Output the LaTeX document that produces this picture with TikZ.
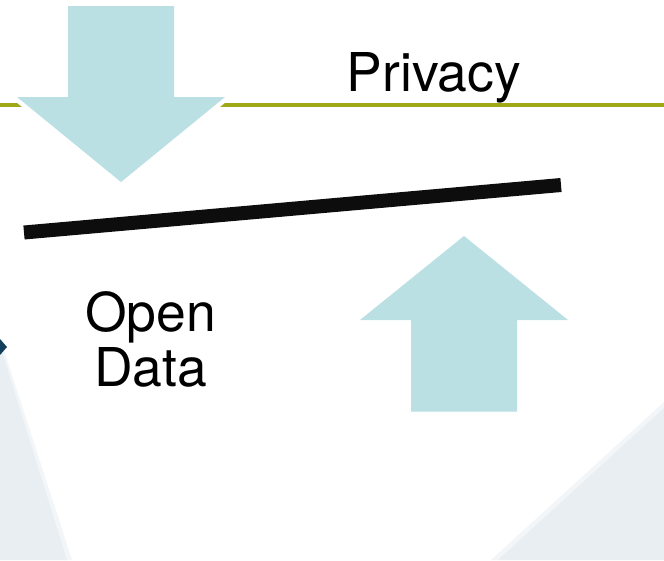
\documentclass[tikz,border=0pt]{standalone}
\usepackage{fontspec}
\setmainfont{TeX Gyre Heros}
\definecolor{arrowcyan}{HTML}{BAE0E3}
\definecolor{rulegreen}{HTML}{9FA816}
\definecolor{barblack}{HTML}{0D0D0D}
\definecolor{panelgrey}{HTML}{E9EEF2}
\definecolor{panelsoft}{HTML}{F3F6F8}
\definecolor{marknavy}{HTML}{123F5C}
\tikzset{
  bigarrow/.style={fill=arrowcyan,draw=none},
  halo/.style={draw=white,fill=white,line width=9pt,line join=miter,miter limit=10},
  panel/.style={fill=panelgrey,draw=none},
  softpanel/.style={fill=panelsoft,draw=none},
  label/.style={inner sep=0pt,font=\fontsize{53.5}{55}\selectfont,text=black,align=center}
}
\begin{document}
\begin{tikzpicture}[x=1pt,y=-1pt]
\useasboundingbox (0,0) rectangle (664,560);
\fill[white] (0,0) rectangle (664,560);
% background panels
\fill[softpanel] (0,338) -- (72,560) -- (0,560) -- cycle;
\fill[softpanel] (664,402) -- (664,560) -- (491,560) -- cycle;
\fill[panel] (0,345) -- (67,560) -- (0,560) -- cycle;
\fill[panel] (664,408) -- (664,560) -- (498,560) -- cycle;
\fill[marknavy] (0,339) -- (7,347) -- (0,355) -- cycle;
% rule
\draw[rulegreen,line width=4pt] (0,105) -- (664,105);
% arrows
\filldraw[halo] (68,6) -- (174,6) -- (174,97) -- (225,97) -- (121,182) -- (17,97) -- (68,97) -- cycle;
\fill[bigarrow] (68,6) -- (174,6) -- (174,97) -- (225,97) -- (121,182) -- (17,97) -- (68,97) -- cycle;
\fill[bigarrow] (411,411.5) -- (517,411.5) -- (517,320) -- (568,320) -- (464,236) -- (360,320) -- (411,320) -- cycle;
% beam
\draw[barblack,line width=14pt] (24,232.5) -- (561,185);
% labels
\node[label] (privacy) at (434,78) {Privacy};
\node[label] (opendata) at (150.5,339) {Open\\Data};
\end{tikzpicture}
\end{document}
